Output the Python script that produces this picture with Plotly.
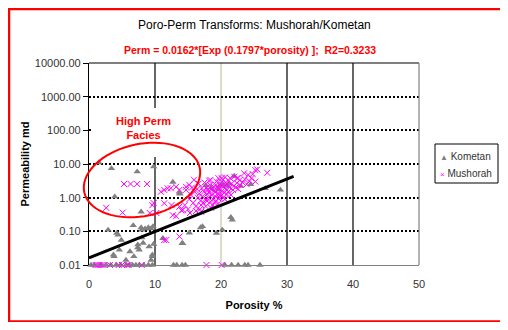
import numpy as np
import plotly.graph_objects as go

# ---------------- data ----------------
kom_x = [1.5, 3.4, 7.3, 9.8, 12.7, 3.9, 7.9, 13.8, 17.7, 19.7, 20.3, 22.0, 24.5, 26.7, 29.0,
         21.7, 21.5, 20.2, 19.3, 16.9, 15.2, 14.2, 11.2, 9.7, 9.4, 9.0, 8.5, 8.0, 7.9, 6.7,
         4.2, 4.9, 6.2, 9.4, 9.6, 2.9, 4.4, 3.7, 7.4, 7.4, 8.0, 8.2, 9.6, 9.8, 14.1, 17.2,
         19.6, 18.5, 20.9, 23.0, 21.2, 20.2, 13.7,
         3.8, 6.8, 7.6, 9.1, 4.6, 5.6,
         0.3, 0.8, 1.8, 2.6, 3.3, 4.1, 4.8, 5.6, 6.1, 6.6, 7.1, 7.6, 8.3, 9.0, 9.6,
         12.8, 13.3, 14.1, 14.6, 20.6, 21.6, 22.6, 23.6, 24.1, 25.9]
kom_y = [11.0, 7.4, 5.9, 8.3, 2.9, 1.07, 0.38, 1.3, 2.3, 2.2, 2.4, 4.4, 2.5, 1.9, 1.7,
         0.22, 0.26, 0.11, 0.088, 0.13, 0.09, 0.044, 0.062, 0.14, 0.12, 0.13, 0.12, 0.11, 0.13, 0.15,
         0.088, 0.055, 0.025, 0.014, 0.018, 0.11, 0.078, 0.02, 0.04, 0.033, 0.065, 0.045, 0.02, 0.042, 0.044, 0.14,
         1.7, 2.0, 2.2, 2.2, 2.6, 2.4, 1.4,
         0.018, 0.018, 0.028, 0.035, 0.028, 0.014,
         0.01, 0.01, 0.01, 0.01, 0.01, 0.01, 0.01, 0.01, 0.01, 0.01, 0.01, 0.01, 0.01, 0.01, 0.01,
         0.01, 0.01, 0.01, 0.01, 0.01, 0.01, 0.01, 0.01, 0.01, 0.01]

mus_x = [5.3, 6.3, 7.3, 8.8, 2.6, 5.1, 9.8, 9.6,
         10.9, 11.4, 11.9, 12.4, 13.2, 13.7, 14.7, 15.2, 15.9, 14.7,
         11.4, 10.2, 12.7, 13.7, 14.2, 9.2, 11.4, 13.7, 11.7, 12.5, 13.2, 14.0, 14.5, 15.3, 16.2, 17.0,
         25.5, 27.0, 24.8, 24.1, 23.5, 22.5, 22.0, 20.1, 18.4, 25.2, 25.2,
         15.2, 15.5, 15.8, 16.0, 15.6, 16.2, 15.0,
         16.5, 16.7, 16.4, 16.9, 16.6, 17.0, 16.8,
         17.2, 17.4, 17.6, 17.8, 17.3, 17.9, 17.5, 17.7, 17.1, 17.9,
         18.1, 18.2, 18.4, 18.5, 18.6, 18.8, 18.3, 18.9, 18.7, 18.2, 18.5, 18.9, 18.0,
         19.1, 19.2, 19.3, 19.4, 19.5, 19.6, 19.7, 19.8, 19.9, 19.3, 19.5, 19.0, 19.8, 19.6, 19.2,
         20.1, 20.2, 20.3, 20.4, 20.5, 20.6, 20.7, 20.8, 20.9, 20.3, 20.6, 20.0, 20.8,
         21.1, 21.3, 21.5, 21.6, 21.8, 21.2, 21.9, 21.4,
         22.2, 22.4, 22.6, 22.8, 22.5, 22.9,
         23.3, 23.6, 23.9, 24.3, 24.6,
         1.0, 1.3, 1.6, 1.9, 2.2, 3.2, 4.5, 5.0, 5.8, 6.0, 8.0, 17.8, 20.1]
mus_y = [2.55, 2.55, 2.55, 2.55, 0.5, 0.36, 0.69, 0.6,
         1.5, 1.7, 1.9, 1.9, 2.1, 1.7, 2.1, 2.4, 3.4, 1.7,
         0.68, 0.35, 0.30, 0.54, 0.43, 0.35, 0.055, 0.07, 0.055, 0.6, 0.28, 0.42, 0.6, 0.35, 0.4, 0.38,
         6.9, 5.5, 5.0, 4.8, 5.3, 3.8, 4.2, 3.8, 3.35, 3.0, 6.6,
         0.9, 1.2, 0.7, 1.5, 2.0, 0.55, 0.45,
         1.0, 1.3, 1.8, 0.8, 2.6, 0.6, 0.45,
         1.1, 1.5, 0.9, 2.0, 0.7, 1.3, 2.8, 0.55, 1.9, 0.8,
         1.0, 1.4, 0.75, 1.8, 1.2, 0.9, 2.4, 1.6, 0.6, 3.2, 0.5, 2.1, 1.7,
         1.1, 1.5, 0.8, 2.0, 1.3, 0.95, 1.8, 1.2, 2.6, 3.0, 0.65, 0.7, 1.0, 3.8, 2.4,
         1.2, 1.6, 1.0, 2.1, 1.4, 0.9, 2.8, 1.8, 1.25, 3.4, 4.0, 2.3, 2.4,
         1.5, 2.0, 1.2, 2.6, 1.7, 3.2, 2.2, 3.8,
         2.0, 2.7, 1.8, 3.3, 3.8, 2.4,
         2.8, 3.5, 2.5, 3.1, 3.8,
         0.01, 0.01, 0.01, 0.01, 0.01, 0.01, 0.01, 0.01, 0.01, 0.01, 0.01, 0.01, 0.01]

trend_x = [0, 31]
trend_y = [0.0162, 4.29]

y_tickvals = [0.01, 0.1, 1, 10, 100, 1000, 10000]
y_ticktext = ["0.01", "0.10", "1.00", "10.00", "100.00", "1000.00", "10000.00"]
x_tickvals = [0, 10, 20, 30, 40, 50]
series_names = ["Kometan", "Mushorah"]

FONT = "Liberation Sans, Arial, sans-serif"
OFF = 8                                # page body margin of the html
W, H = 508 - OFF, 330 - 2 * OFF
L, R, T, B = 89, 419, 63, 265          # plot area in screen pixels


def px2paper(px, py):
    return (px - L) / (R - L), (B - py) / (B - T)


fig = go.Figure()
fig.add_trace(go.Scatter(
    x=kom_x, y=kom_y, mode="markers", name=series_names[0], cliponaxis=False,
    marker=dict(symbol="triangle-up", size=6.5, color="#808080")))
fig.add_trace(go.Scatter(
    x=mus_x, y=mus_y, mode="markers", name=series_names[1], cliponaxis=False,
    marker=dict(symbol="x-thin-open", size=6, color="#FF00FF",
                line=dict(color="#FF00FF", width=1))))
fig.add_trace(go.Scatter(
    x=trend_x, y=trend_y, mode="lines", showlegend=False, cliponaxis=False,
    line=dict(color="black", width=3)))

shapes = []
# vertical gridlines
for xv, col in [(10, "black"), (20, "#C4C4A4"), (30, "black"), (40, "black")]:
    shapes.append(dict(type="line", xref="x", yref="paper", x0=xv, x1=xv, y0=0, y1=1,
                       line=dict(color=col, width=1.2), layer="between"))
# white box behind the annotation
bx0, by0 = px2paper(93, 157)
bx1, by1 = px2paper(193, 108)
shapes.append(dict(type="rect", xref="paper", yref="paper", x0=bx0, x1=bx1, y0=by0, y1=by1,
                   fillcolor="white", line=dict(width=0), layer="above"))
# plot frame: top black, right gray
shapes.append(dict(type="line", xref="paper", yref="paper", x0=0, x1=1, y0=1, y1=1,
                   line=dict(color="black", width=1.2)))
shapes.append(dict(type="line", xref="paper", yref="paper", x0=1, x1=1, y0=0, y1=1,
                   line=dict(color="#808080", width=1.2)))
# ellipse around the high-perm facies (drawn in pixel space)
cx, cy, a, b, th = 142, 180, 59, 36, np.deg2rad(12)
t = np.linspace(0, 2 * np.pi, 73)
ex = cx + a * np.cos(t) * np.cos(th) + b * np.sin(t) * np.sin(th)
ey = cy - a * np.cos(t) * np.sin(th) + b * np.sin(t) * np.cos(th)
pts = [px2paper(u, v) for u, v in zip(ex, ey)]
path = "M " + " L ".join(f"{u:.4f},{v:.4f}" for u, v in pts) + " Z"
shapes.append(dict(type="path", xref="paper", yref="paper", path=path,
                   line=dict(color="red", width=2)))
# legend box
lx0, ly0 = px2paper(435, 183)
lx1, ly1 = px2paper(498, 144)
shapes.append(dict(type="rect", xref="paper", yref="paper", x0=lx0, x1=lx1, y0=ly0, y1=ly1,
                   fillcolor="white", line=dict(color="black", width=1)))
# red outer frame
fx0, fy0 = px2paper(8.5, 322)
fx1, fy1 = px2paper(503, 8.5)
shapes.append(dict(type="rect", xref="paper", yref="paper", x0=fx0, x1=fx1, y0=fy0, y1=fy1,
                   line=dict(color="red", width=3.5)))

ann = []
tx, ty = px2paper(254, 25)
ann.append(dict(x=tx, y=ty, xref="paper", yref="paper", showarrow=False,
                xanchor="center", yanchor="middle",
                text="Poro-Perm Transforms: Mushorah/Kometan",
                font=dict(family=FONT, size=12, color="black")))
sx, sy = px2paper(250, 50)
ann.append(dict(x=sx, y=sy, xref="paper", yref="paper", showarrow=False,
                xanchor="center", yanchor="middle",
                text="<b>Perm = 0.0162*[Exp (0.1797*porosity) ];  R2=0.3233</b>",
                font=dict(family=FONT, size=10.5, color="red")))
hx, hy = px2paper(143, 128.5)
ann.append(dict(x=hx, y=hy, xref="paper", yref="paper", showarrow=False,
                xanchor="center", yanchor="middle",
                text="<b>High Perm<br>Facies</b>", align="center",
                font=dict(family=FONT, size=11, color="red")))
# legend entries
for (lyp, sym, col, name) in [(156, "▲", "#808080", series_names[0]),
                              (173, "×", "#FF00FF", series_names[1])]:
    ax_, ay_ = px2paper(438, lyp)
    ann.append(dict(x=ax_, y=ay_, xref="paper", yref="paper", showarrow=False,
                    xanchor="left", yanchor="middle",
                    text=f"<span style='color:{col};font-size:8px'>{sym}</span> {name}",
                    font=dict(family=FONT, size=10, color="#333")))

fig.update_layout(
    width=W, height=H,
    margin=dict(l=L - OFF, r=W - (R - OFF), t=T - OFF, b=H - (B - OFF), pad=0, autoexpand=False),
    paper_bgcolor="white", plot_bgcolor="white",
    font=dict(family=FONT, size=11, color="#222"),
    shapes=shapes, annotations=ann, showlegend=False,
    xaxis=dict(range=[0, 50], tickvals=x_tickvals, showgrid=False, zeroline=False,
               showline=True, linecolor="#808080", linewidth=1.2, ticks="",
               ticklabelstandoff=9, tickfont=dict(size=11, color="#333"),
               title=dict(text="<b>Porosity %</b>", font=dict(size=11, color="black"),
                          standoff=12), automargin=False),
    yaxis=dict(type="log", range=[-2, 4], tickvals=y_tickvals, ticktext=y_ticktext,
               showgrid=True, gridcolor="black", gridwidth=2, griddash="2px,2px",
               zeroline=False, showline=True, linecolor="black", linewidth=1.2,
               ticks="outside", ticklen=5, tickcolor="black",
               tickfont=dict(size=11, color="#333"),
               title=dict(text="<b>Permeability md</b>", font=dict(size=11, color="black"),
                          standoff=2), automargin=False),
)

fig.write_html("out.html")
